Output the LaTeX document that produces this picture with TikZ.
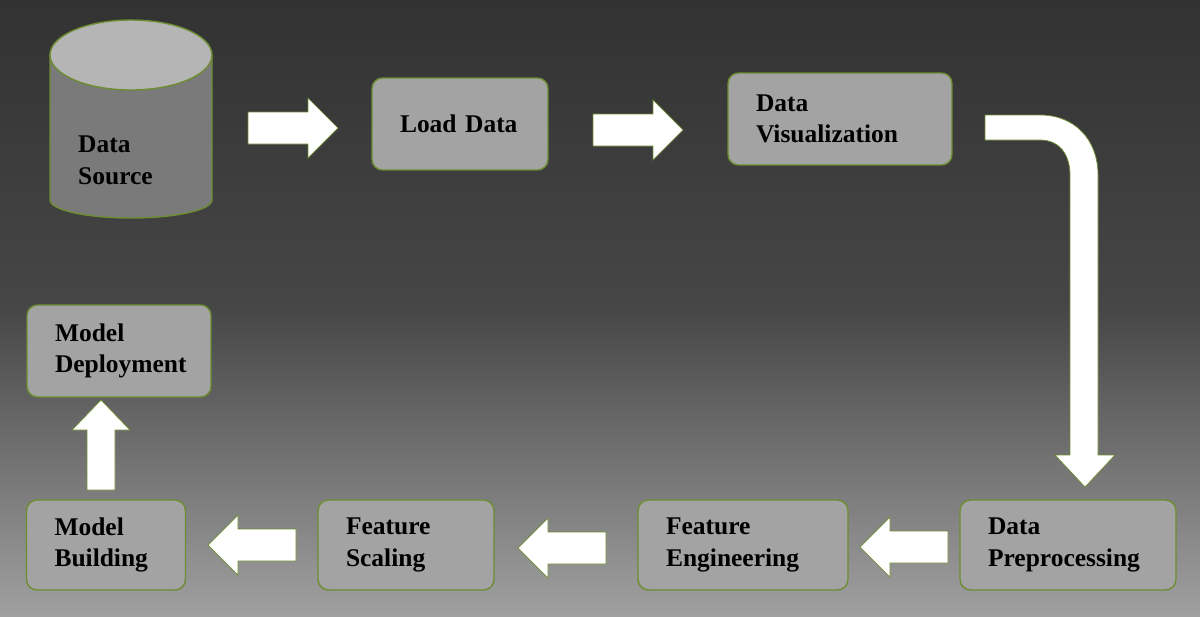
\documentclass[tikz,border=0pt]{standalone}
\usepackage{fontspec}
\setmainfont{Liberation Serif}
\usetikzlibrary{shapes.geometric}
\definecolor{boxfill}{RGB}{163,163,163}
\definecolor{boxline}{RGB}{110,140,50}
\definecolor{bgtop}{RGB}{50,50,50}
\definecolor{bgbot}{RGB}{160,160,160}
% block arrow pointing right from (#1,#2), length 90
\newcommand{\rightblock}[2]{\fill[white,draw=boxline,thin] (#1,#2-16) -- ++(60,0) -- ++(0,-14) -- ++(30,30) -- ++(-30,30) -- ++(0,-14) -- ++(-60,0) -- cycle;}
\newcommand{\leftblock}[2]{\fill[white,draw=boxline,thin] (#1,#2-16) -- ++(-58,0) -- ++(0,-14) -- ++(-30,30) -- ++(30,30) -- ++(0,-14) -- ++(58,0) -- cycle;}
\begin{document}
\begin{tikzpicture}[x=0.02cm, y=-0.02cm, font=\fontsize{14.5}{18}\selectfont\bfseries,
  box/.style={rectangle, rounded corners=6pt, draw=boxline, fill=boxfill, thick,
    text width=#1, align=left, inner xsep=0.56cm, inner ysep=0pt},
  ]
  \shade[top color=bgtop, bottom color=bgbot, middle color=gray!55!black] (0,0) rectangle (1200,616);
  \useasboundingbox (0,0) rectangle (1200,616);

  % data source cylinder
  \fill[boxfill!75!black, draw=boxline, thick] (50,55) -- (50,200) arc[start angle=180, end angle=360, x radius=81, y radius=-18] -- (212,55) -- cycle;
  \draw[fill=boxfill!80!white, draw=boxline, thick] (131,55) ellipse[x radius=81, y radius=35];
  \node (source) [anchor=west, align=left] at (72,160) {Data\\Source};

  \node (load) [box=2.4cm, minimum height=1.84cm] at (460,124) {Load Data};
  \node (visual) [box=3.36cm, minimum height=1.84cm] at (840,119) {Data\\Visualization};
  \node (deploy) [box=2.56cm, minimum height=1.84cm] at (119,351) {Model\\Deployment};
  \node (build) [box=2.06cm, minimum height=1.8cm] at (106,545) {Model\\Building};
  \node (scale) [box=2.4cm, minimum height=1.8cm] at (406,545) {Feature\\Scaling};
  \node (engin) [box=3.08cm, minimum height=1.8cm] at (743,545) {Feature\\Engineering};
  \node (prep) [box=3.2cm, minimum height=1.8cm] at (1068,545) {Data\\Preprocessing};

  % block arrows
  \rightblock{248}{128}
  \rightblock{593}{130}
  \leftblock{948}{547}
  \leftblock{606}{548}
  \leftblock{296}{545}
  \fill[white,draw=boxline,thin] (87,490) -- (87,430) -- (72,430) -- (101,400) -- (130,430) -- (115,430) -- (115,490) -- cycle;
  \fill[white,draw=boxline,thin] (985,115) -- (1040,115) .. controls (1075,115) and (1098,140) .. (1098,175)
    -- (1098,455) -- (1115,455) -- (1085,487) -- (1055,455) -- (1070,455) -- (1070,175)
    .. controls (1070,155) and (1060,140) .. (1040,140) -- (985,140) -- cycle;
\end{tikzpicture}
\end{document}
